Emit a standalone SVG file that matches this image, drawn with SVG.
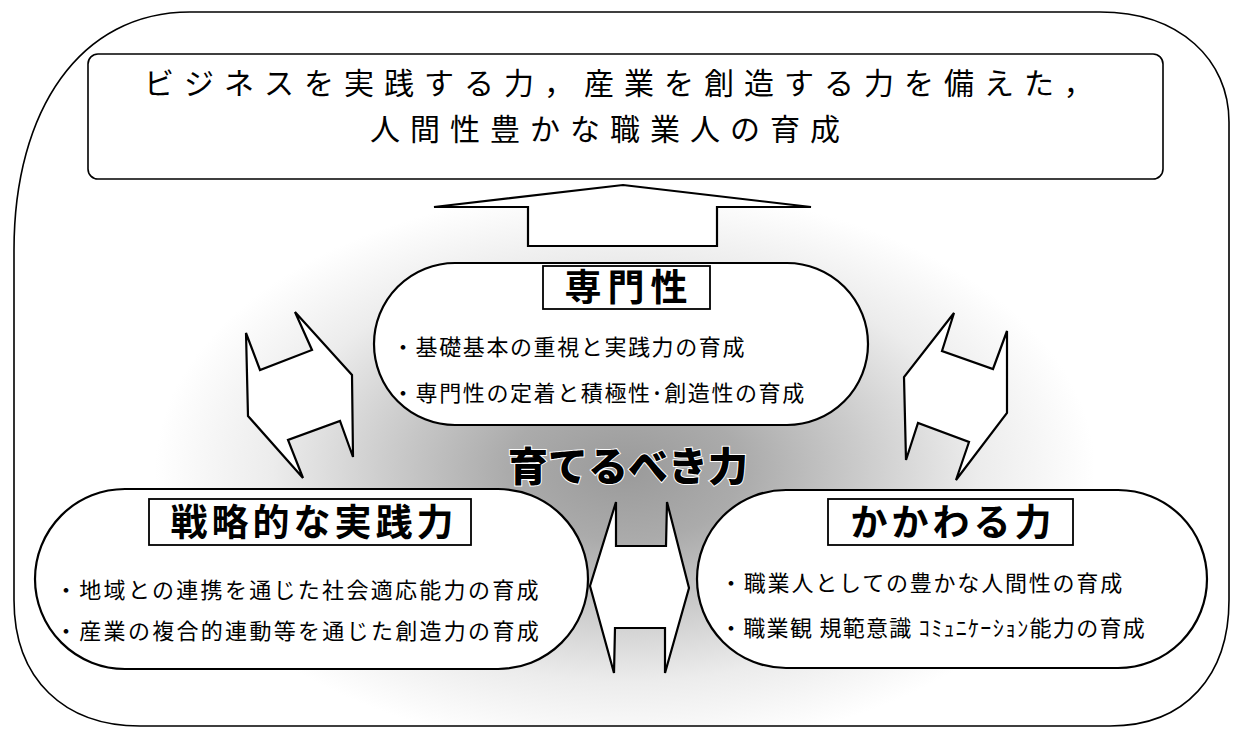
<svg xmlns="http://www.w3.org/2000/svg" width="1236" height="729" viewBox="0 0 1236 729">
<style>
  .ln{fill:none;stroke:#000;stroke-width:1.6}
  .box{fill:#fff;stroke:#000;stroke-width:1.6}
  .stad{fill:#fff;stroke:#000;stroke-width:2.2}
  .arr{fill:#fff;stroke:#000;stroke-width:2.2;stroke-linejoin:miter}
  .lab{fill:#fff;stroke:#000;stroke-width:1.8}
  text{font-family:'Noto Sans CJK JP','Noto Sans CJK SC',sans-serif;fill:#000}
  .title{font-size:30px;letter-spacing:10px;font-weight:400}
  .head{font-size:37px;font-weight:700;text-anchor:middle}
  .bul{font-size:22px}
  .center{font-size:40px;font-weight:900;text-anchor:middle;stroke:#fff;stroke-width:2;paint-order:stroke}
</style>
<defs>
  <radialGradient id="halo" gradientUnits="userSpaceOnUse" cx="625" cy="470" r="470" gradientTransform="translate(625 470) scale(1 0.6) translate(-625 -470)">
    <stop offset="0" stop-color="#9a9a9a"/>
    <stop offset="0.25" stop-color="#ababab"/>
    <stop offset="0.5" stop-color="#cbcbcb"/>
    <stop offset="0.75" stop-color="#ececec"/>
    <stop offset="1" stop-color="#ffffff"/>
  </radialGradient>
</defs>
<rect width="1236" height="729" fill="#fff"/>
<g id="frame">
  <path class="ln" d="M 190,12 L 1100,12 C 1180,12 1229,60 1229,122 L 1229,600 C 1229,675 1186,726 1110,726 L 140,726 C 65,726 14,680 14,600 L 14,250 C 14,110 80,12 190,12 Z"/>
</g>
<g id="background">
  <rect x="150" y="195" width="950" height="530" fill="url(#halo)"/>
</g>
<g id="goal">
  <rect class="box" x="88" y="54" width="1075" height="125" rx="10"/>
  <text class="title" x="144" y="94">ビジネスを実践する力，産業を創造する力を備えた，</text>
  <text class="title" x="370" y="140">人間性豊かな職業人の育成</text>
</g>
<g id="connectors">
  <polygon class="arr" points="623,185 811,207 717,207 717,246 528,246 528,207 434,207"/>
  <polygon class="arr" points="295,312 352,375 353,457 340,421 288,440 303,478 248,416 246,333 260,370 312,350"/>
  <polygon class="arr" points="954,313 942,351 993,369 1007,331 1007,413 956,480 969,442 918,423 906,460 904,377"/>
  <polygon class="arr" points="616,502 616,546 666,546 667,502 689,588 665,673 665,628 615,628 614,673 590,586"/>
</g>
<g id="node-senmonsei">
  <rect class="stad" x="374" y="263" width="494" height="162" rx="81"/>
  <rect class="lab" x="543" y="266" width="167" height="43"/>
  <text class="head" x="629" y="301" letter-spacing="6">専門性</text>
  <text class="bul" x="392" y="355" letter-spacing="1.6">・基礎基本の重視と実践力の育成</text>
  <text class="bul" x="392" y="401" letter-spacing="1.6">・専門性の定着と積極性･創造性の育成</text>
</g>
<g id="node-senryaku">
  <rect class="stad" x="35" y="489" width="553" height="180" rx="90"/>
  <rect class="lab" x="149" y="499" width="322" height="46"/>
  <text class="head" x="314" y="536" letter-spacing="4">戦略的な実践力</text>
  <text class="bul" x="55" y="598" letter-spacing="2.3">・地域との連携を通じた社会適応能力の育成</text>
  <text class="bul" x="55" y="639" letter-spacing="2.3">・産業の複合的連動等を通じた創造力の育成</text>
</g>
<g id="node-kakawaru">
  <rect class="stad" x="697" y="490" width="510" height="178" rx="89"/>
  <rect class="lab" x="828" y="499" width="245" height="46"/>
  <text class="head" x="953" y="536" letter-spacing="4">かかわる力</text>
  <text class="bul" x="720" y="591" letter-spacing="1.8">・職業人としての豊かな人間性の育成</text>
  <text class="bul" x="720" y="636" letter-spacing="1.3">・職業観 規範意識 ｺﾐｭﾆｹｰｼｮﾝ能力の育成</text>
</g>
<g id="center-label">
  <text class="center" x="628" y="481">育てるべき力</text>
</g>
</svg>
